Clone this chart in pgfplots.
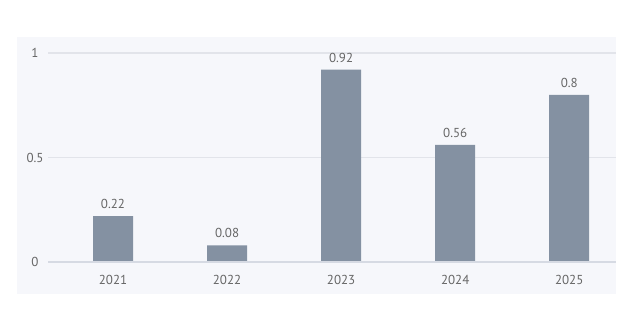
\documentclass[border=0pt]{standalone}
\usepackage{pgfplots}
\pgfplotsset{compat=1.18}
\usepackage{fontspec}
\setmainfont{PT Sans}
\definecolor{panel}{HTML}{F6F7FB}
\definecolor{gridc}{HTML}{E2E4EA}
\definecolor{basec}{HTML}{D6DAE3}
\definecolor{barc}{HTML}{8491A2}
\definecolor{txt}{HTML}{666666}
\begin{document}
\begin{tikzpicture}[x=1pt,y=1pt]
\useasboundingbox (0,0) rectangle (624,311);
\fill[white] (0,0) rectangle (624,311);
\fill[panel] (17,17) rectangle (616,274);
\begin{axis}[
  at={(48pt,49pt)}, anchor=south west,
  scale only axis, width=568pt, height=209pt,
  xmin=-0.57, xmax=4.41, ymin=0, ymax=1,
  axis line style={draw=none},
  xtick={0,1,2,3,4},
  xticklabels={2021,2022,2023,2024,2025},
  ytick={0,0.5,1},
  yticklabels={0,0.5,1},
  major tick length=0pt,
  ymajorgrids, grid style={gridc, line width=1.2pt},
  tick label style={font=\fontsize{13}{15}\selectfont, text=txt},
  yticklabel style={anchor=center, xshift=-13pt},
  xticklabel style={anchor=north, yshift=-10pt},
  clip=false,
  nodes near coords,
  every node near coord/.append style={font=\fontsize{13}{15}\selectfont, text=txt, yshift=4pt},
  point meta=explicit symbolic,
]
\addplot[ybar, bar width=40pt, fill=barc, draw=none, bar shift=0pt]
  coordinates {(0,0.22)[0.22] (1,0.08)[0.08] (2,0.92)[0.92] (3,0.56)[0.56] (4,0.8)[0.8]};
\draw[basec, line width=1.2pt] (axis cs:-0.57,0) -- (axis cs:4.41,0);
\end{axis}
\end{tikzpicture}
\end{document}
